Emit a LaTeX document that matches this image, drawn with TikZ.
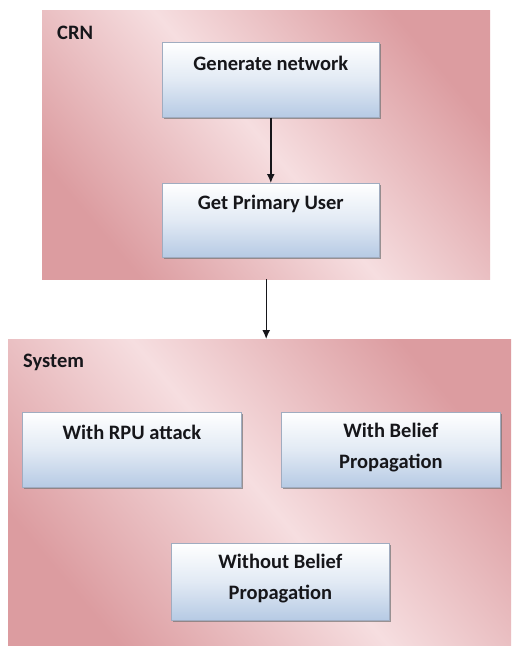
\documentclass[tikz,border=0pt]{standalone}
\usepackage{fontspec}
\setmainfont{Carlito}
\usetikzlibrary{arrows.meta,shadows}

\definecolor{paneldark}{RGB}{220,156,160}
\definecolor{panellight}{RGB}{246,222,224}
\definecolor{boxblue}{RGB}{182,202,228}
\definecolor{boxline}{RGB}{160,172,192}
\definecolor{inkc}{RGB}{22,22,26}

\tikzset{
  panel/.style={anchor=north west, inner sep=0pt,
    top color=paneldark, bottom color=paneldark, middle color=panellight,
    shading angle=-50},
  stepbox/.style={anchor=north west, inner sep=0pt, draw=boxline, line width=0.6pt,
    top color=white, bottom color=boxblue, middle color=white!60!boxblue,
    drop shadow={shadow xshift=1.2pt, shadow yshift=-1.8pt, fill=black!55, opacity=.7}},
  boxtext/.style={font=\bfseries\fontsize{20.5}{31}\selectfont, text=inkc, align=center},
  paneltitle/.style={anchor=west, inner sep=0pt, font=\bfseries\fontsize{20.5}{24}\selectfont, text=inkc},
  flow/.style={draw=inkc, line width=1.4pt, -{Latex[length=9pt,width=8pt]}}
}

\begin{document}
\begin{tikzpicture}[x=1pt,y=-1pt]
  \useasboundingbox[fill=white] (0,0) rectangle (512,646);

  % the two container panels
  \node[panel, minimum width=448pt, minimum height=269pt] (crn) at (42,10) {};
  \node[panel, minimum width=503pt, minimum height=306pt] (sys) at (8,339) {};
  \node[paneltitle] (crnlbl) at (57,33) {CRN};
  \node[paneltitle] (syslbl) at (23,362) {System};

  % process boxes
  \node[stepbox, minimum width=217pt, minimum height=75pt] (gen) at (162,42) {};
  \node[stepbox, minimum width=217pt, minimum height=74pt] (pu) at (162,183) {};
  \node[stepbox, minimum width=219pt, minimum height=75pt] (rpu) at (22,412) {};
  \node[stepbox, minimum width=219pt, minimum height=75pt] (wbp) at (281,412) {};
  \node[stepbox, minimum width=218pt, minimum height=77pt] (wobp) at (171,543) {};

  % box captions, set near the top edge of each box
  \node[boxtext, anchor=center] (gentxt) at ([yshift=-21pt]gen.north) {Generate network};
  \node[boxtext, anchor=center] (putxt) at ([yshift=-21pt]pu.north) {Get Primary User};
  \node[boxtext, anchor=center] (rputxt) at ([yshift=-20pt]rpu.north) {With RPU attack};
  \node[boxtext, anchor=north] (wbptxt) at ([yshift=-8pt]wbp.north) {With Belief\\Propagation};
  \node[boxtext, anchor=north] (wobptxt) at ([yshift=-8pt]wobp.north) {Without Belief\\Propagation};

  % connectors
  \draw[flow] (gen.south) -- (pu.north);
  \draw[flow] (crn.south) -- (crn.south |- sys.north);
\end{tikzpicture}
\end{document}
